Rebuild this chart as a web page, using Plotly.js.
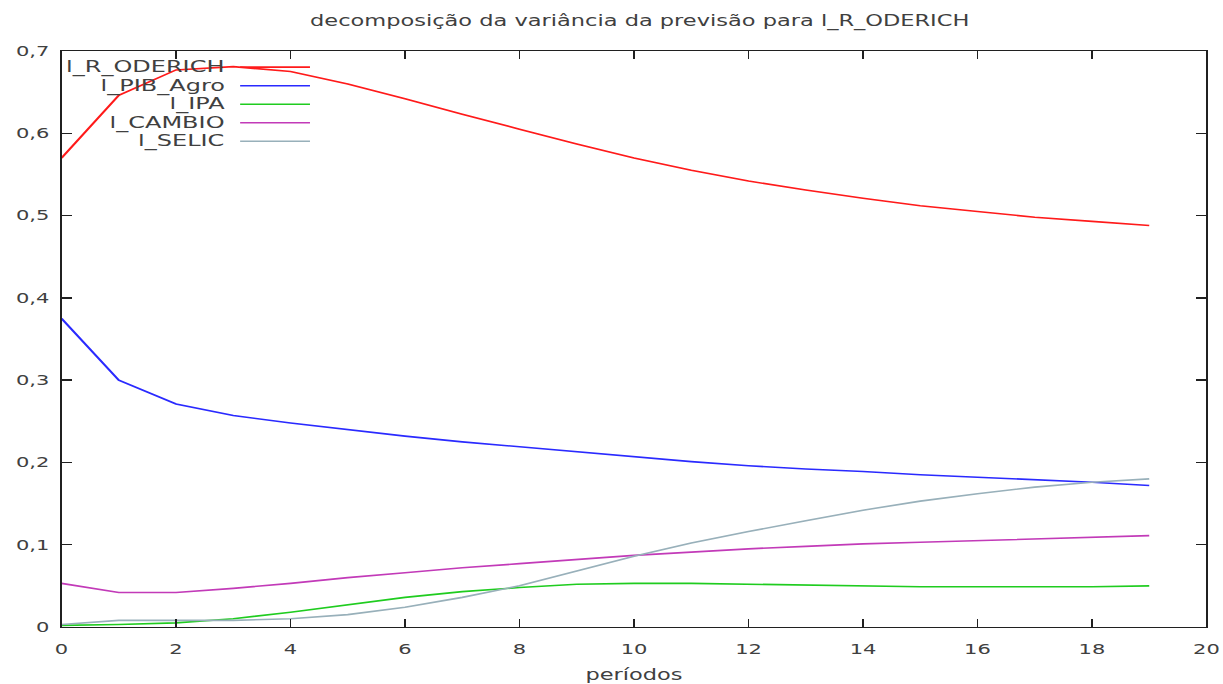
<!DOCTYPE html>
<html>
<head>
<meta charset="utf-8">
<script src="https://cdn.plot.ly/plotly-3.0.1.min.js"></script>
<style>
  html, body { margin: 0; padding: 0; background: #fff; overflow: hidden; }
  /* the chart is laid out narrow and widened horizontally */
  #chart { width: 815px; height: 684px; transform: scaleX(1.5006); transform-origin: 0 0; }
</style>
</head>
<body>
<div id="chart"></div>
<script>
// forecast horizon (periods)
const periods = [0,1,2,3,4,5,6,7,8,9,10,11,12,13,14,15,16,17,18,19];

// share of forecast-error variance of l_R_ODERICH explained by each shock
const seriesNames = ["l_R_ODERICH", "l_PIB_Agro", "l_IPA", "l_CAMBIO", "l_SELIC"];
const rOderich = [0.570,0.646,0.677,0.681,0.675,0.660,0.642,0.623,0.605,0.587,0.570,0.555,0.542,0.531,0.521,0.512,0.505,0.498,0.493,0.488];
const pibAgro  = [0.375,0.300,0.271,0.257,0.248,0.240,0.232,0.225,0.219,0.213,0.207,0.201,0.196,0.192,0.189,0.185,0.182,0.179,0.176,0.172];
const ipa      = [0.002,0.003,0.005,0.010,0.018,0.027,0.036,0.043,0.048,0.052,0.053,0.053,0.052,0.051,0.050,0.049,0.049,0.049,0.049,0.050];
const cambio   = [0.053,0.042,0.042,0.047,0.053,0.060,0.066,0.072,0.077,0.082,0.087,0.091,0.095,0.098,0.101,0.103,0.105,0.107,0.109,0.111];
const selic    = [0.003,0.008,0.008,0.008,0.010,0.015,0.024,0.036,0.050,0.068,0.086,0.102,0.116,0.129,0.142,0.153,0.162,0.170,0.176,0.180];

const seriesValues = [rOderich, pibAgro, ipa, cambio, selic];
const colors = ["#ff1a1a", "#2a2aff", "#1fcc1f", "#c23ab8", "#98b0ba"];

const textColor = "#404040";
const family = "DejaVu Sans, Verdana, sans-serif";
const tickFont = { family: family, size: 14, color: textColor };
const titleFont = { family: family, size: 15, color: textColor };
const keyFont = { family: family, size: 16, color: textColor };

const traces = seriesNames.map((name, i) => ({
  x: periods,
  y: seriesValues[i],
  name: name,
  type: "scatter",
  mode: "lines",
  line: { color: colors[i], width: 1.6 },
  showlegend: false
}));

// key in the upper-left corner: label on the left, line sample on the right
const keyTop = 0.972, keyStep = 0.0322;
const annotations = seriesNames.map((name, i) => ({
  xref: "paper", yref: "paper",
  x: 0.146, y: keyTop - i * keyStep,
  xanchor: "right", yanchor: "middle",
  text: name, showarrow: false,
  font: keyFont
}));
const shapes = seriesNames.map((name, i) => ({
  type: "line", xref: "paper", yref: "paper",
  x0: 0.156, x1: 0.217,
  y0: keyTop - i * keyStep, y1: keyTop - i * keyStep,
  line: { color: colors[i], width: 1.6 }
}));

const axisCommon = {
  showgrid: false,
  zeroline: false,
  showline: true,
  linecolor: "#202020",
  linewidth: 1.3,
  mirror: "allticks",
  ticks: "inside",
  tickcolor: "#202020",
  tickwidth: 1.3,
  tickfont: tickFont
};

const layout = {
  width: 815,
  height: 684,
  margin: { l: 41, r: 11, t: 51, b: 57 },
  paper_bgcolor: "#ffffff",
  plot_bgcolor: "#ffffff",
  separators: ", ",
  font: tickFont,
  title: {
    text: "decomposição da variância da previsão para l_R_ODERICH",
    font: titleFont,
    xref: "paper",
    x: 0.505, xanchor: "center",
    y: 0.97, yanchor: "middle"
  },
  xaxis: Object.assign({}, axisCommon, {
    range: [0, 20],
    dtick: 2,
    tick0: 0,
    ticklen: 8,
    ticklabelstandoff: 9,
    title: { text: "períodos", font: titleFont, standoff: 14 }
  }),
  yaxis: Object.assign({}, axisCommon, {
    range: [0, 0.7],
    dtick: 0.1,
    tick0: 0,
    ticklen: 7,
    ticklabelstandoff: 4
  }),
  annotations: annotations,
  shapes: shapes
};

Plotly.newPlot("chart", traces, layout, { staticPlot: true, displayModeBar: false });
</script>
</body>
</html>
